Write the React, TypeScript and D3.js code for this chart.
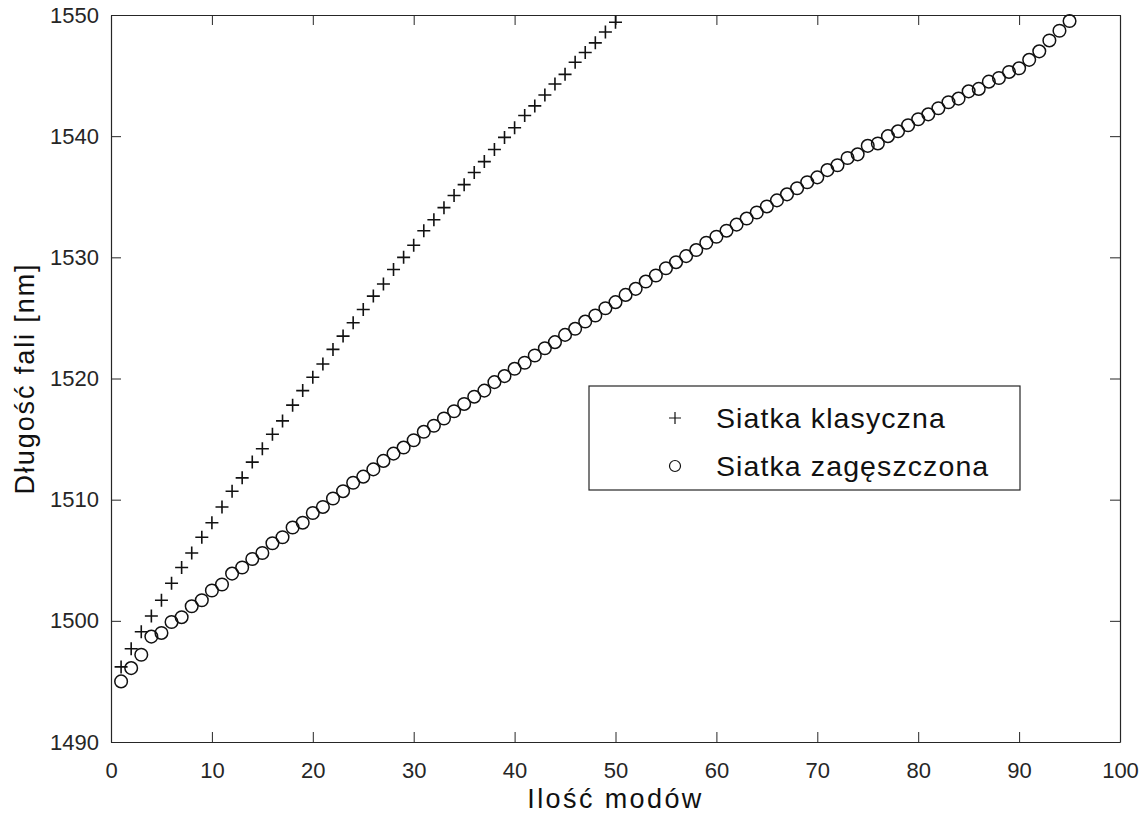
import { useEffect, useRef } from "react";
import * as d3 from "d3";

// values (mode index -> wavelength in nm)
const classicModes = d3.range(1, 51);
const classicWavelengths = [
  1496.2, 1497.7, 1499.1, 1500.4, 1501.7, 1503.1, 1504.4, 1505.6, 1506.9, 1508.1,
  1509.4, 1510.7, 1511.8, 1513.1, 1514.2, 1515.4, 1516.5, 1517.8, 1519.0, 1520.1,
  1521.2, 1522.4, 1523.5, 1524.6, 1525.7, 1526.8, 1527.8, 1529.0, 1530.0, 1531.0,
  1532.2, 1533.1, 1534.1, 1535.1, 1536.0, 1537.0, 1537.9, 1538.9, 1539.9, 1540.7,
  1541.7, 1542.5, 1543.4, 1544.3, 1545.1, 1546.1, 1546.9, 1547.7, 1548.6, 1549.4,
];

const denseModes = d3.range(1, 96);
const denseWavelengths = [
  1495.0, 1496.1, 1497.2, 1498.7, 1499.0, 1499.9, 1500.3, 1501.2, 1501.7, 1502.5,
  1503.0, 1503.9, 1504.4, 1505.1, 1505.6, 1506.4, 1506.9, 1507.7, 1508.1, 1508.9,
  1509.4, 1510.1, 1510.7, 1511.4, 1511.9, 1512.5, 1513.2, 1513.8, 1514.3, 1514.9,
  1515.6, 1516.1, 1516.7, 1517.3, 1517.9, 1518.5, 1519.0, 1519.7, 1520.2, 1520.8,
  1521.3, 1521.9, 1522.5, 1523.0, 1523.6, 1524.1, 1524.7, 1525.2, 1525.8, 1526.3,
  1526.9, 1527.4, 1528.0, 1528.5, 1529.1, 1529.6, 1530.1, 1530.6, 1531.2, 1531.7,
  1532.2, 1532.7, 1533.2, 1533.7, 1534.2, 1534.7, 1535.2, 1535.7, 1536.2, 1536.6,
  1537.2, 1537.6, 1538.2, 1538.5, 1539.2, 1539.4, 1540.0, 1540.4, 1540.9, 1541.4,
  1541.8, 1542.3, 1542.8, 1543.1, 1543.7, 1543.9, 1544.5, 1544.8, 1545.3, 1545.6,
  1546.3, 1547.0, 1547.9, 1548.7, 1549.5,
];

const xTicks = d3.range(0, 101, 10);
const yTicks = d3.range(1490, 1551, 10);
const seriesNames = ["Siatka klasyczna", "Siatka zagęszczona"];
const xTitle = "Ilość modów";
const yTitle = "Długość fali [nm]";

const WIDTH = 1146;
const HEIGHT = 823;
const FONT = "Arial, 'Liberation Sans', Helvetica, sans-serif";

const App = () => {
  const ref = useRef<SVGSVGElement | null>(null);

  useEffect(() => {
    if (!ref.current) return;
    const svg = d3.select(ref.current);
    svg.selectAll("*").remove();

    const margin = { top: 15, right: 26, bottom: 81, left: 111 };
    const width = WIDTH - margin.left - margin.right;
    const height = HEIGHT - margin.top - margin.bottom;

    const x = d3.scaleLinear().domain([0, 100]).range([0, width]);
    const y = d3.scaleLinear().domain([1490, 1550]).range([height, 0]);

    svg.append("rect").attr("width", WIDTH).attr("height", HEIGHT).attr("fill", "#fff");

    const g = svg.append("g").attr("transform", `translate(${margin.left},${margin.top})`);

    const axisColor = "#262626";
    const tickLen = 10;
    const fmt = d3.format("d");

    // bottom and left axes, ticks pointing inward
    const bottom = g.append("g")
      .attr("transform", `translate(0,${height})`)
      .call(d3.axisBottom(x).tickValues(xTicks).tickFormat(fmt).tickSizeInner(-tickLen).tickSizeOuter(0).tickPadding(20));
    const left = g.append("g")
      .call(d3.axisLeft(y).tickValues(yTicks).tickFormat(fmt).tickSizeInner(-tickLen).tickSizeOuter(0).tickPadding(12));
    // top and right close the box
    const top = g.append("g")
      .call(d3.axisTop(x).tickValues(xTicks).tickSizeInner(-tickLen).tickSizeOuter(0).tickFormat(() => ""));
    const right = g.append("g")
      .attr("transform", `translate(${width},0)`)
      .call(d3.axisRight(y).tickValues(yTicks).tickSizeInner(-tickLen).tickSizeOuter(0).tickFormat(() => ""));

    [bottom, left, top, right].forEach((ax) => {
      ax.select(".domain").attr("stroke", axisColor).attr("stroke-width", 1.2);
      ax.selectAll(".tick line").attr("stroke", axisColor).attr("stroke-width", 1);
      ax.selectAll(".tick text")
        .attr("fill", "#262626")
        .style("font-family", FONT)
        .style("font-size", "22px");
    });

    const plusPath = (s: number) => `M${-s},0H${s}M0,${-s}V${s}`;

    g.append("g")
      .selectAll("path")
      .data(classicModes)
      .enter().append("path")
      .attr("d", plusPath(6.5))
      .attr("transform", (d, i) => `translate(${x(d)},${y(classicWavelengths[i])})`)
      .attr("fill", "none")
      .attr("stroke", "#111")
      .attr("stroke-width", 1.6);

    g.append("g")
      .selectAll("circle")
      .data(denseModes)
      .enter().append("circle")
      .attr("cx", (d) => x(d))
      .attr("cy", (d, i) => y(denseWavelengths[i]))
      .attr("r", 6.3)
      .attr("fill", "none")
      .attr("stroke", "#111")
      .attr("stroke-width", 1.5);

    // legend
    const legend = g.append("g").attr("transform", `translate(${589 - margin.left},${386 - margin.top})`);
    legend.append("rect")
      .attr("width", 431)
      .attr("height", 104)
      .attr("fill", "#fff")
      .attr("stroke", axisColor)
      .attr("stroke-width", 1.2);
    legend.append("path")
      .attr("d", plusPath(6))
      .attr("transform", "translate(86,32)")
      .attr("stroke", "#111")
      .attr("stroke-width", 1.2);
    legend.append("circle")
      .attr("cx", 86)
      .attr("cy", 80)
      .attr("r", 5.5)
      .attr("fill", "none")
      .attr("stroke", "#111")
      .attr("stroke-width", 1.2);
    legend.selectAll("text.entry")
      .data(seriesNames)
      .enter().append("text")
      .attr("class", "entry")
      .attr("x", 127)
      .attr("y", (d, i) => 32 + i * 48)
      .attr("dy", "0.36em")
      .style("font-family", FONT)
      .style("font-size", "28.5px")
      .style("letter-spacing", "1.1px")
      .attr("fill", "#111")
      .text((d) => d);

    // axis titles
    g.append("text")
      .attr("x", width / 2)
      .attr("y", height + 66)
      .attr("text-anchor", "middle")
      .style("font-family", FONT)
      .style("font-size", "27px")
      .style("letter-spacing", "2.4px")
      .attr("fill", "#111")
      .text(xTitle);

    g.append("text")
      .attr("transform", "rotate(-90)")
      .attr("x", -height / 2)
      .attr("y", 34 - margin.left)
      .attr("text-anchor", "middle")
      .style("font-family", FONT)
      .style("font-size", "27px")
      .style("letter-spacing", "1.9px")
      .attr("fill", "#111")
      .text(yTitle);
  }, []);

  return (
    <svg
      ref={ref}
      width={WIDTH}
      height={HEIGHT}
      style={{ position: "absolute", left: 0, top: 0, display: "block" }}
    />
  );
};

export default App;
